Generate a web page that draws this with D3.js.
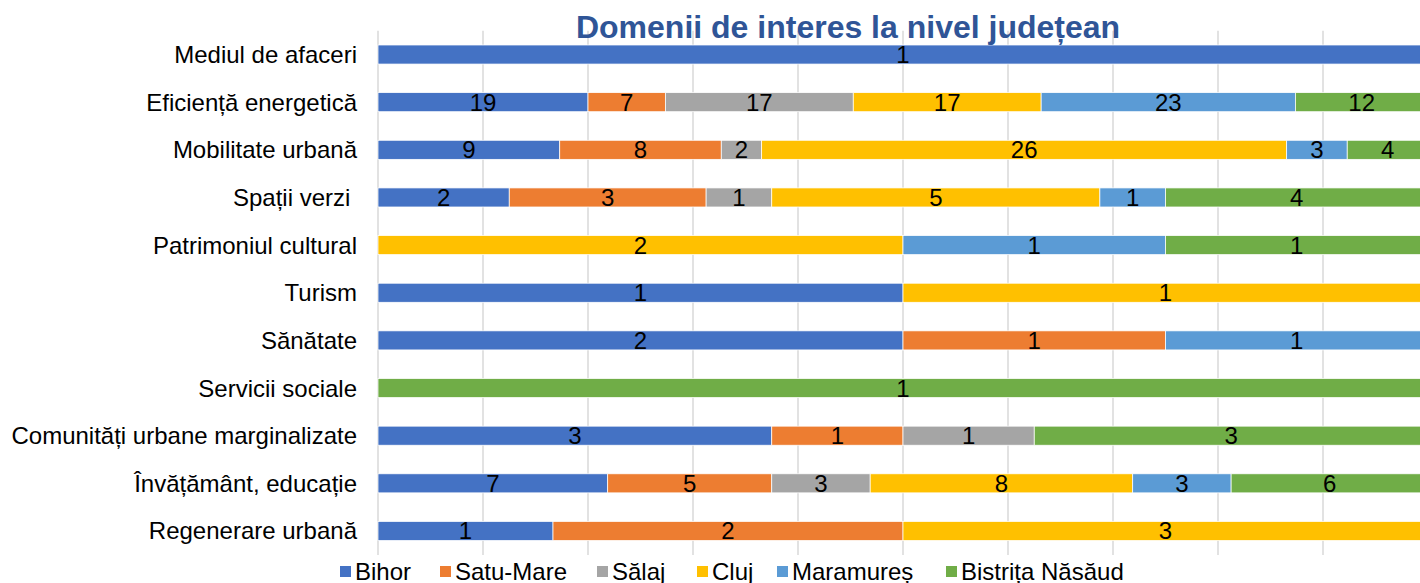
<!DOCTYPE html>
<html><head><meta charset="utf-8">
<script src="https://cdn.jsdelivr.net/npm/d3@7"></script>
<style>body{margin:0;background:#fff;overflow:hidden}svg{display:block;font-family:"Liberation Sans",Arial,sans-serif}</style>
</head><body>
<svg id="c" width="1420" height="583"></svg>
<script>
const categories = ["Mediul de afaceri","Eficiență energetică","Mobilitate urbană","Spații verzi ","Patrimoniul cultural","Turism","Sănătate","Servicii sociale","Comunități urbane marginalizate","Învățământ, educație","Regenerare urbană"];
const seriesNames = ["Bihor","Satu-Mare","Sălaj","Cluj","Maramureș","Bistrița Năsăud"];
const bihor     = [1,19,9,2,0,1,2,0,3,7,1];
const satuMare  = [0,7,8,3,0,0,1,0,1,5,2];
const salaj     = [0,17,2,1,0,0,0,0,1,3,0];
const cluj      = [0,17,26,5,2,1,0,0,0,8,3];
const maramures = [0,23,3,1,1,0,1,0,0,3,0];
const bistrita  = [0,12,4,4,1,0,0,1,3,6,0];
const colors = ["#4472C4","#ED7D31","#A5A5A5","#FFC000","#5B9BD5","#70AD47"];
const title = "Domenii de interes la nivel județean";
const xTicks = [0,0.1,0.2,0.3,0.4,0.5,0.6,0.7,0.8,0.9,1];

const seriesVals = [bihor,satuMare,salaj,cluj,maramures,bistrita];
const rows = categories.map((c,i)=>{const o={cat:c};seriesNames.forEach((s,j)=>o[s]=seriesVals[j][i]);return o;});
const stack = d3.stack().keys(seriesNames).offset(d3.stackOffsetExpand)(rows);

const svg = d3.select("#c");
const x = d3.scaleLinear().domain([0,1]).range([378,1428]);
const y = d3.scaleBand().domain(categories).range([30.7,554.8]).paddingInner(0.6).paddingOuter(0.3);

// gridlines
svg.append("g").selectAll("line").data(xTicks).join("line")
  .attr("x1",d=>x(d)).attr("x2",d=>x(d)).attr("y1",30.7).attr("y2",555)
  .attr("stroke","#d9d9d9").attr("stroke-width",1.5);

// bars
const g = svg.append("g");
stack.forEach((s,si)=>{
  const grp = g.append("g").attr("fill",colors[si]);
  grp.selectAll("rect").data(s.filter(d=>d[1]-d[0]>0)).join("rect")
    .attr("x",d=>x(d[0])).attr("width",d=>x(d[1])-x(d[0]))
    .attr("y",d=>y(d.data.cat)).attr("height",y.bandwidth())
    .attr("stroke","#fff").attr("stroke-width",0.75);
});
stack.forEach((s,si)=>{
  g.append("g").selectAll("text").data(s.filter(d=>d[1]-d[0]>0)).join("text")
    .attr("x",d=>(x(d[0])+x(d[1]))/2).attr("y",d=>y(d.data.cat)+y.bandwidth()/2+8.5)
    .attr("text-anchor","middle").attr("font-size",24).attr("fill","#000")
    .text(d=>d.data[s.key]);
});

// category labels
svg.append("g").selectAll("text").data(categories).join("text")
  .attr("x",357).attr("y",d=>y(d)+y.bandwidth()/2+8.5)
  .attr("text-anchor","end").attr("font-size",24).attr("fill","#000")
  .style("white-space","pre").text(d=>d);

// title
svg.append("text").attr("x",848).attr("y",38).attr("text-anchor","middle")
  .attr("font-size",32).attr("font-weight","bold").attr("fill","#2F5597").text(title);

// legend
const legX = [340,440,597,697,777,946];
const lg = svg.append("g");
seriesNames.forEach((s,i)=>{
  lg.append("rect").attr("x",legX[i]).attr("y",566).attr("width",11).attr("height",11).attr("fill",colors[i]);
  lg.append("text").attr("x",legX[i]+15).attr("y",580).attr("font-size",24).attr("fill","#000").text(s);
});
</script>
</body></html>
